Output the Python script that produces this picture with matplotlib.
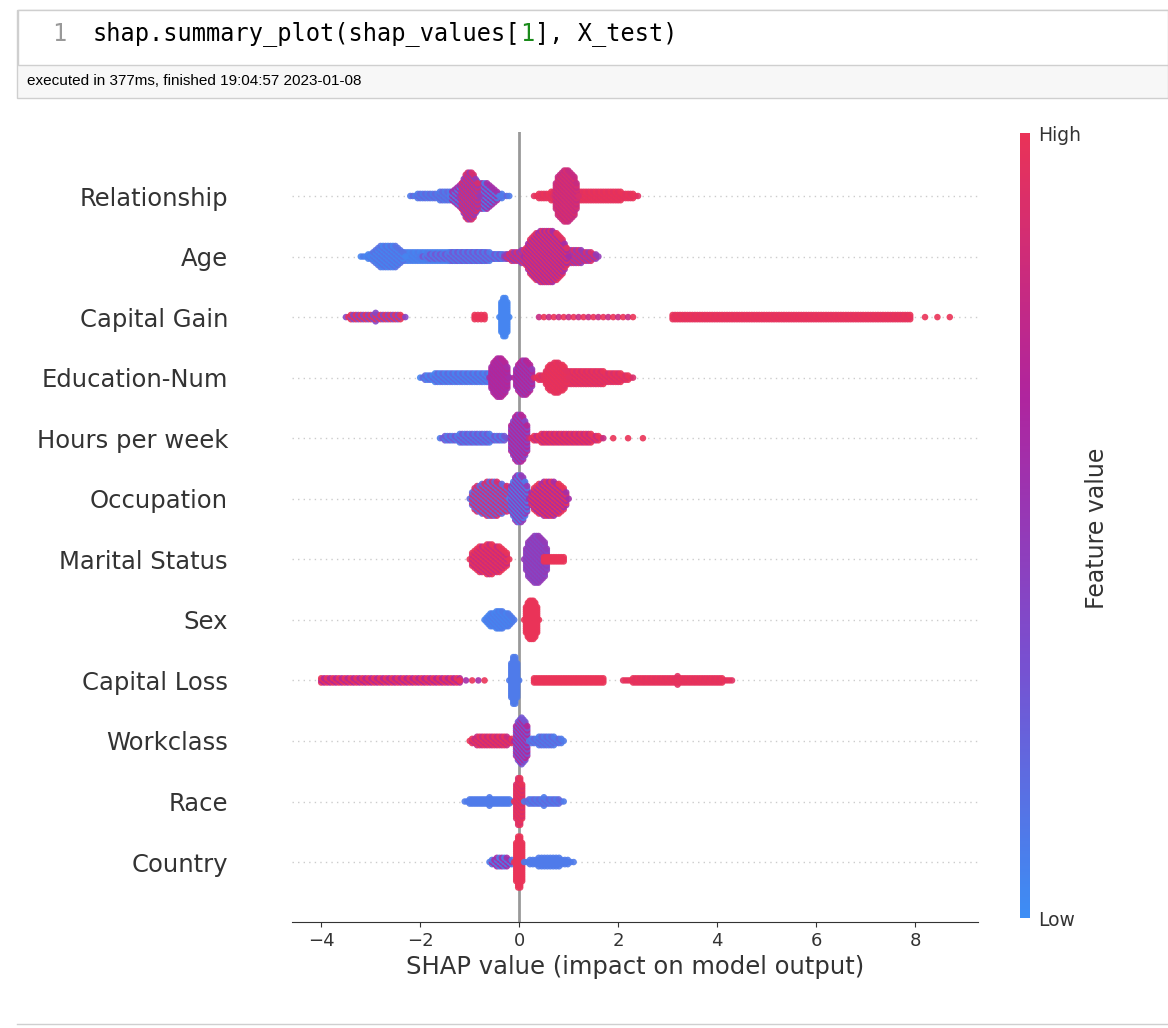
import numpy as np
import matplotlib
matplotlib.use('Agg')
import matplotlib.pyplot as plt
from matplotlib.colors import LinearSegmentedColormap
from matplotlib.patches import Rectangle

# Признаки сверху вниз
features = ["Relationship", "Age", "Capital Gain", "Education-Num", "Hours per week",
            "Occupation", "Marital Status", "Sex", "Capital Loss", "Workclass",
            "Race", "Country"]

# Кластеры точек: (x_start, x_end, half_height, color_a, color_b, step)
clusters = [
    [(-2.2, -0.2, 0.08, 0.1, 0.2, 0.05), (-1.4, -0.4, 0.25, 0.1, 0.6, 0.05),
     (-1.2, -0.8, 0.4, 0.5, 0.9, 0.04), (0.3, 2.4, 0.1, 0.95, 1.0, 0.05),
     (0.7, 1.2, 0.45, 0.9, 0.8, 0.04)],
    [(-3.2, -0.2, 0.1, 0.05, 0.1, 0.05), (-3.0, -2.3, 0.2, 0.05, 0.15, 0.05),
     (-2.0, 0.0, 0.08, 0.1, 0.3, 0.05), (-0.3, 1.6, 0.15, 0.5, 0.9, 0.05),
     (0.1, 1.0, 0.45, 0.6, 0.95, 0.04)],
    [(-3.5, -2.3, 0.07, 0.4, 1.0, 0.05), (-0.4, -0.2, 0.35, 0.05, 0.05, 0.04),
     (-0.9, -0.7, 0.05, 1.0, 1.0, 0.07), (0.4, 2.3, 0.03, 0.8, 1.0, 0.1),
     (3.1, 7.9, 0.05, 0.95, 1.0, 0.05), (8.2, 8.7, 0.01, 1.0, 1.0, 0.25)],
    [(-2.0, -0.2, 0.1, 0.05, 0.2, 0.05), (-0.6, -0.2, 0.35, 0.6, 0.7, 0.04),
     (-0.1, 0.3, 0.3, 0.7, 0.5, 0.04), (0.3, 2.3, 0.12, 0.9, 1.0, 0.05),
     (0.5, 1.0, 0.25, 0.95, 1.0, 0.04)],
    [(-1.6, -0.2, 0.08, 0.1, 0.3, 0.05), (-0.2, 0.2, 0.4, 0.4, 0.7, 0.04),
     (0.2, 1.7, 0.1, 0.8, 1.0, 0.05), (1.9, 2.5, 0.01, 1.0, 1.0, 0.3)],
    [(-1.0, -0.1, 0.3, 0.2, 0.9, 0.05), (-0.2, 0.2, 0.4, 0.1, 0.5, 0.04),
     (0.2, 1.0, 0.3, 0.6, 1.0, 0.05)],
    [(-1.0, -0.2, 0.25, 1.0, 0.8, 0.05), (0.1, 0.6, 0.4, 0.5, 0.4, 0.04),
     (0.5, 0.9, 0.05, 1.0, 1.0, 0.05)],
    [(-0.7, -0.1, 0.15, 0.05, 0.1, 0.04), (0.1, 0.4, 0.35, 1.0, 1.0, 0.04)],
    [(-4.0, -1.2, 0.05, 0.7, 1.0, 0.06), (-1.2, -0.7, 0.02, 1.0, 0.6, 0.12),
     (-0.2, 0.0, 0.4, 0.1, 0.1, 0.04), (0.3, 1.7, 0.05, 1.0, 1.0, 0.05),
     (2.1, 4.3, 0.07, 0.95, 1.0, 0.05)],
    [(-1.0, -0.1, 0.1, 1.0, 0.8, 0.05), (-0.1, 0.2, 0.4, 0.7, 0.3, 0.04),
     (0.2, 0.9, 0.08, 0.1, 0.2, 0.05)],
    [(-1.1, -0.1, 0.07, 0.1, 0.1, 0.05), (-0.1, 0.1, 0.4, 1.0, 0.9, 0.04),
     (0.1, 0.9, 0.07, 0.1, 0.2, 0.05)],
    [(-0.6, -0.1, 0.08, 0.1, 0.6, 0.05), (-0.1, 0.1, 0.45, 1.0, 1.0, 0.04),
     (0.1, 1.1, 0.08, 0.1, 0.1, 0.06)],
]

cmap = LinearSegmentedColormap.from_list(
    "shap_rb", ["#3d8ef5", "#7a4fd0", "#b0259e", "#ea3358"])


def cluster_points(c, yc):
    """Раскладывает кластер в виде роя с плавными краями."""
    x0, x1, h, ca, cb, step = c
    xs, ys, cs = [], [], []
    n = max(int(round((x1 - x0) / step)) + 1, 2)
    for i, x in enumerate(np.linspace(x0, x1, n)):
        t = (x - x0) / (x1 - x0)
        hh = h * np.sin(np.pi * t) ** 0.5 if h > 0.06 else h
        k = int(hh / 0.035)
        for j in range(-k, k + 1):
            xs.append(x)
            ys.append(yc + j * 0.035)
            cs.append(ca if (i + j) % 2 == 0 else cb)
    return xs, ys, cs


fig = plt.figure(figsize=(11.68, 10.28), dpi=100)
W, H = 1168.0, 1028.0

# Шапка ячейки Jupyter
fig.patches.append(Rectangle((17 / W, 1 - 98 / H), 1151 / W, 88 / H,
                             transform=fig.transFigure, fc="#f7f7f7", ec="#cfcfcf", lw=1))
fig.patches.append(Rectangle((18 / W, 1 - 65 / H), 1150 / W, 55 / H,
                             transform=fig.transFigure, fc="white", ec="#cfcfcf", lw=1))
fig.text(52 / W, 1 - 34 / H, "1", fontsize=17, color="#999999",
         family="DejaVu Sans Mono", va="center")
renderer = fig.canvas.get_renderer()
xpos = 93.0
for part, col in [("shap.summary_plot(shap_values[", "black"), ("1", "#1a8a1a"),
                  ("], X_test)", "black")]:
    t = fig.text(xpos / W, 1 - 34 / H, part, fontsize=17, color=col,
                 family="DejaVu Sans Mono", va="center")
    xpos += t.get_window_extent(renderer).width
fig.text(27 / W, 1 - 81 / H, "executed in 377ms, finished 19:04:57 2023-01-08",
         fontsize=11, va="center", family="Liberation Sans")
fig.add_artist(plt.Line2D([17 / W, 1], [1 - 1024 / H] * 2, color="#cfcfcf", lw=1))

ax = fig.add_axes([292 / W, 1 - 922 / H, 686 / W, 790 / H])
nf = len(features)
for r, (name, cl) in enumerate(zip(features, clusters)):
    yc = nf - 1 - r
    ax.axhline(yc, color="#cccccc", lw=1, ls=(0, (1, 3)), zorder=0)
    for c in cl:
        xs, ys, cs = cluster_points(c, yc)
        ax.scatter(xs, ys, c=cs, cmap=cmap, vmin=0, vmax=1, s=22,
                   linewidths=0, alpha=0.9, zorder=3)
ax.axvline(0, color="#999999", lw=2, zorder=2)
ax.set_xlim(-4.59, 9.27)
ax.set_ylim(-0.99, nf - 1 + 1.057)
ax.set_yticks(range(nf))
ax.set_yticklabels(features[::-1], fontsize=17.5, color="#333333")
ax.tick_params(axis="y", length=0, pad=46)
ax.set_xticks([-4, -2, 0, 2, 4, 6, 8])
ax.tick_params(axis="x", labelsize=13, colors="#333333", labelcolor="#333333")
ax.set_xlabel("SHAP value (impact on model output)", fontsize=17.5, color="#333333")
for s in ["top", "right", "left"]:
    ax.spines[s].set_visible(False)
ax.spines["bottom"].set_color("#333333")

# Цветовая шкала
cax = fig.add_axes([1020 / W, 1 - 918 / H, 10 / W, 785 / H])
grad = np.linspace(0, 1, 256).reshape(-1, 1)
cax.imshow(grad, aspect="auto", cmap=cmap, origin="lower", extent=[0, 1, 0, 1])
cax.set_xticks([])
cax.set_yticks([0, 1])
cax.set_yticklabels(["Low", "High"], fontsize=13.5, color="#333333")
cax.yaxis.tick_right()
cax.tick_params(axis="y", length=0, pad=6)
for s in cax.spines.values():
    s.set_visible(False)
fig.text(1097 / W, 1 - 528 / H, "Feature value", rotation=90, fontsize=17,
         color="#333333", ha="center", va="center")

plt.savefig("out.png", dpi=100)
